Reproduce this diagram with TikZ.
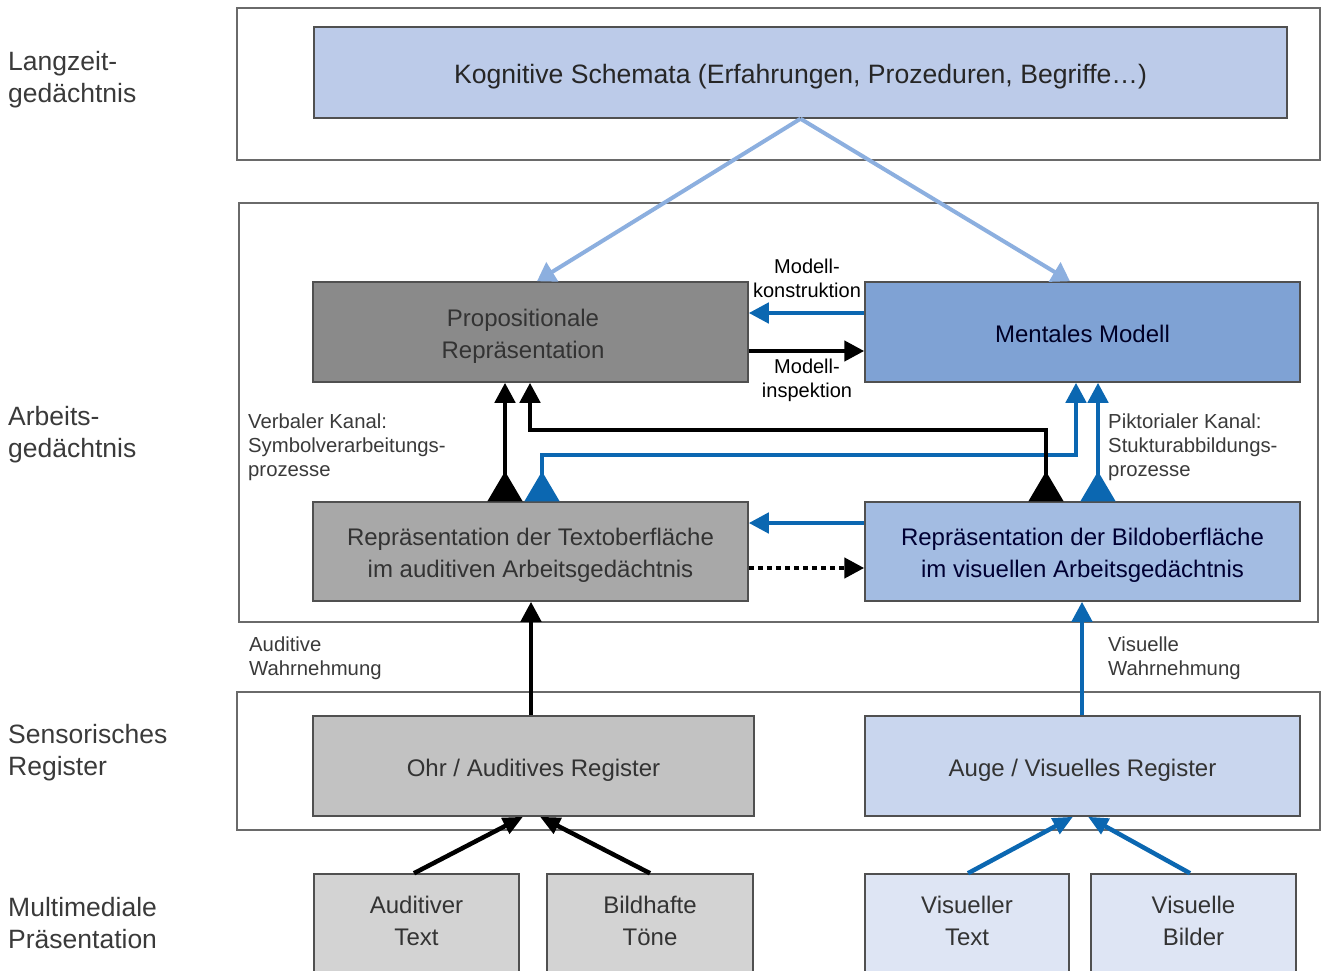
\documentclass[tikz,border=0pt]{standalone}
\usepackage{fontspec}
\setmainfont{Liberation Sans}
\usetikzlibrary{arrows.meta,calc}

\definecolor{framegray}{HTML}{6A6A6A}
\definecolor{boxborder}{HTML}{505050}
\definecolor{boxtext}{HTML}{333333}
\definecolor{labeltext}{HTML}{3A3A3A}
\definecolor{kogfill}{HTML}{BCCBE9}
\definecolor{propfill}{HTML}{8A8A8A}
\definecolor{mentfill}{HTML}{7FA2D4}
\definecolor{txtfill}{HTML}{A8A8A8}
\definecolor{bildfill}{HTML}{A3BCE2}
\definecolor{ohrfill}{HTML}{C2C2C2}
\definecolor{augefill}{HTML}{C9D6EE}
\definecolor{audfill}{HTML}{D3D3D3}
\definecolor{visfill}{HTML}{DEE5F4}
\definecolor{chanblue}{HTML}{0B67B1}
\definecolor{schemablue}{HTML}{8CAFDF}

% centred lines of box text, shifted inside the box without changing its size
\newcommand\boxlines[2][-4pt]{\raisebox{#1}[\height][\depth]{\begin{tabular}{@{}c@{}}#2\end{tabular}}}

\begin{document}
\begin{tikzpicture}[x=1pt,y=-1pt,
  frame/.style={draw=framegray, line width=1.5pt, fill=white, inner sep=0pt},
  box/.style={draw=boxborder, line width=1.5pt, inner sep=0pt, align=center,
    text=boxtext, font=\fontsize{24}{32}\selectfont},
  level/.style={anchor=west, align=left, inner sep=0pt, text=labeltext,
    font=\fontsize{26.5}{32}\selectfont},
  note/.style={anchor=west, align=left, inner sep=0pt, text=labeltext,
    font=\fontsize{20.3}{24}\selectfont},
  tag/.style={align=center, inner sep=0pt, text=black,
    font=\fontsize{20}{24}\selectfont},
  blkarrow/.style={draw=black, line width=4.5pt, -{Triangle[width=20pt,length=20pt]}},
  bluarrow/.style={draw=chanblue, line width=4.5pt, -{Triangle[width=20pt,length=20pt]}},
  blkchan/.style={blkarrow, {Triangle[reversed,width=34pt,length=30pt]}-{Triangle[width=20pt,length=20pt]}},
  bluchan/.style={bluarrow, {Triangle[reversed,width=34pt,length=30pt]}-{Triangle[width=20pt,length=20pt]}},
  schema/.style={draw=schemablue, line width=4pt, -{Triangle[width=22pt,length=18pt]}},
  feedblk/.style={draw=black, line width=4.5pt, -{Triangle[width=17pt,length=20pt]}},
  feedblu/.style={draw=chanblue, line width=4.5pt, -{Triangle[width=17pt,length=20pt]}}
]
\useasboundingbox (0,0) rectangle (1322,971);

% level frames
\node[frame, minimum width=1083pt, minimum height=152pt] (lzg) at (778.5,84) {};
\node[frame, minimum width=1079pt, minimum height=419pt] (ag) at (778.5,412.5) {};
\node[frame, minimum width=1083pt, minimum height=138pt] (sr) at (778.5,761) {};

% level names
\node[level] (l1) at (8,80) {Langzeit-\\gedächtnis};
\node[level] (l2) at (8,435) {Arbeits-\\gedächtnis};
\node[level] (l3) at (8,753) {Sensorisches\\Register};
\node[level] (l4) at (8,923) {Multimediale\\Präsentation};

% long-term memory
\node[box, fill=kogfill, minimum width=973pt, minimum height=91pt, text=black!85,
  font=\fontsize{26.6}{32}\selectfont] (kog) at (800.5,72.5)
  {\boxlines[-5pt]{Kognitive Schemata (Erfahrungen, Prozeduren, Begriffe…)}};

% working memory
\node[box, fill=propfill, minimum width=435pt, minimum height=100pt] (prop) at (530.5,332)
  {\hspace*{-15pt}\boxlines{Propositionale\\Repräsentation}};
\node[box, fill=mentfill, minimum width=435pt, minimum height=100pt, text=black!85!blue] (ment) at (1082.5,332)
  {\boxlines{Mentales Modell}};
\node[box, fill=txtfill, minimum width=435pt, minimum height=99pt] (txt) at (530.5,551.5)
  {\boxlines{Repräsentation der Textoberfläche\\im auditiven Arbeitsgedächtnis}};
\node[box, fill=bildfill, minimum width=435pt, minimum height=99pt, text=black!80!blue] (bild) at (1082.5,551.5)
  {\boxlines{Repräsentation der Bildoberfläche\\im visuellen Arbeitsgedächtnis}};

% sensory register
\node[box, fill=ohrfill, minimum width=441pt, minimum height=100pt] (ohr) at (533.5,766)
  {\boxlines{Ohr / Auditives Register}};
\node[box, fill=augefill, minimum width=435pt, minimum height=100pt] (auge) at (1082.5,766)
  {\boxlines{Auge / Visuelles Register}};

% multimedia presentation
\node[box, fill=audfill, minimum width=205pt, minimum height=110pt] (at) at (416.5,929)
  {\boxlines[5.5pt]{Auditiver\\Text}};
\node[box, fill=audfill, minimum width=206pt, minimum height=110pt] (bt) at (650,929)
  {\boxlines[5.5pt]{Bildhafte\\Töne}};
\node[box, fill=visfill, minimum width=204pt, minimum height=110pt] (vt) at (967,929)
  {\boxlines[5.5pt]{Visueller\\Text}};
\node[box, fill=visfill, minimum width=205pt, minimum height=110pt] (vb) at (1193.5,929)
  {\boxlines[5.5pt]{Visuelle\\Bilder}};

% schema activation
\coordinate (kogout) at (kog.south);
\draw[schema] (kogout) -- (537,0 |- prop.north);
\draw[schema] (kogout) -- (1070,0 |- ment.north);

% model construction and inspection
\draw[bluarrow] (ment.west |- 0,313) -- (prop.east |- 0,313);
\draw[blkarrow] (prop.east |- 0,351) -- (ment.west |- 0,351);
\node[tag] (mk) at (807,278) {Modell-\\konstruktion};
\node[tag] (mi) at (807,380) {Modell-\\inspektion};

% channels
\draw[blkchan] (505,0 |- txt.north) -- (505,0 |- prop.south);
\draw[bluchan] (542,0 |- txt.north) -- (542,455) -- (1076,455) -- (1076,0 |- ment.south);
\draw[blkchan] (1046,0 |- bild.north) -- (1046,430) -- (530,430) -- (530,0 |- prop.south);
\draw[bluchan] (1098,0 |- bild.north) -- (1098,0 |- ment.south);

\node[note] (vk) at (248,447) {Verbaler Kanal:\\Symbolverarbeitungs-\\prozesse};
\node[note] (pk) at (1108,447) {Piktorialer Kanal:\\Stukturabbildungs-\\prozesse};

% surface representations
\draw[bluarrow] (bild.west |- 0,523) -- (txt.east |- 0,523);
\draw[blkarrow, dash pattern=on 5pt off 4pt] (txt.east |- 0,568) -- (bild.west |- 0,568);

% perception
\draw[blkarrow] (531,0 |- ohr.north) -- (531,0 |- txt.south);
\draw[bluarrow] (1082,0 |- auge.north) -- (1082,0 |- bild.south);
\node[note] (aw) at (249,658) {Auditive\\Wahrnehmung};
\node[note] (vw) at (1108,658) {Visuelle\\Wahrnehmung};

% presentation to sensory register
\draw[feedblk] (414,0 |- at.north) -- (523,0 |- ohr.south);
\draw[feedblk] (650,0 |- bt.north) -- (540,0 |- ohr.south);
\draw[feedblu] (968,0 |- vt.north) -- (1073,0 |- auge.south);
\draw[feedblu] (1190,0 |- vb.north) -- (1088,0 |- auge.south);
\end{tikzpicture}
\end{document}
